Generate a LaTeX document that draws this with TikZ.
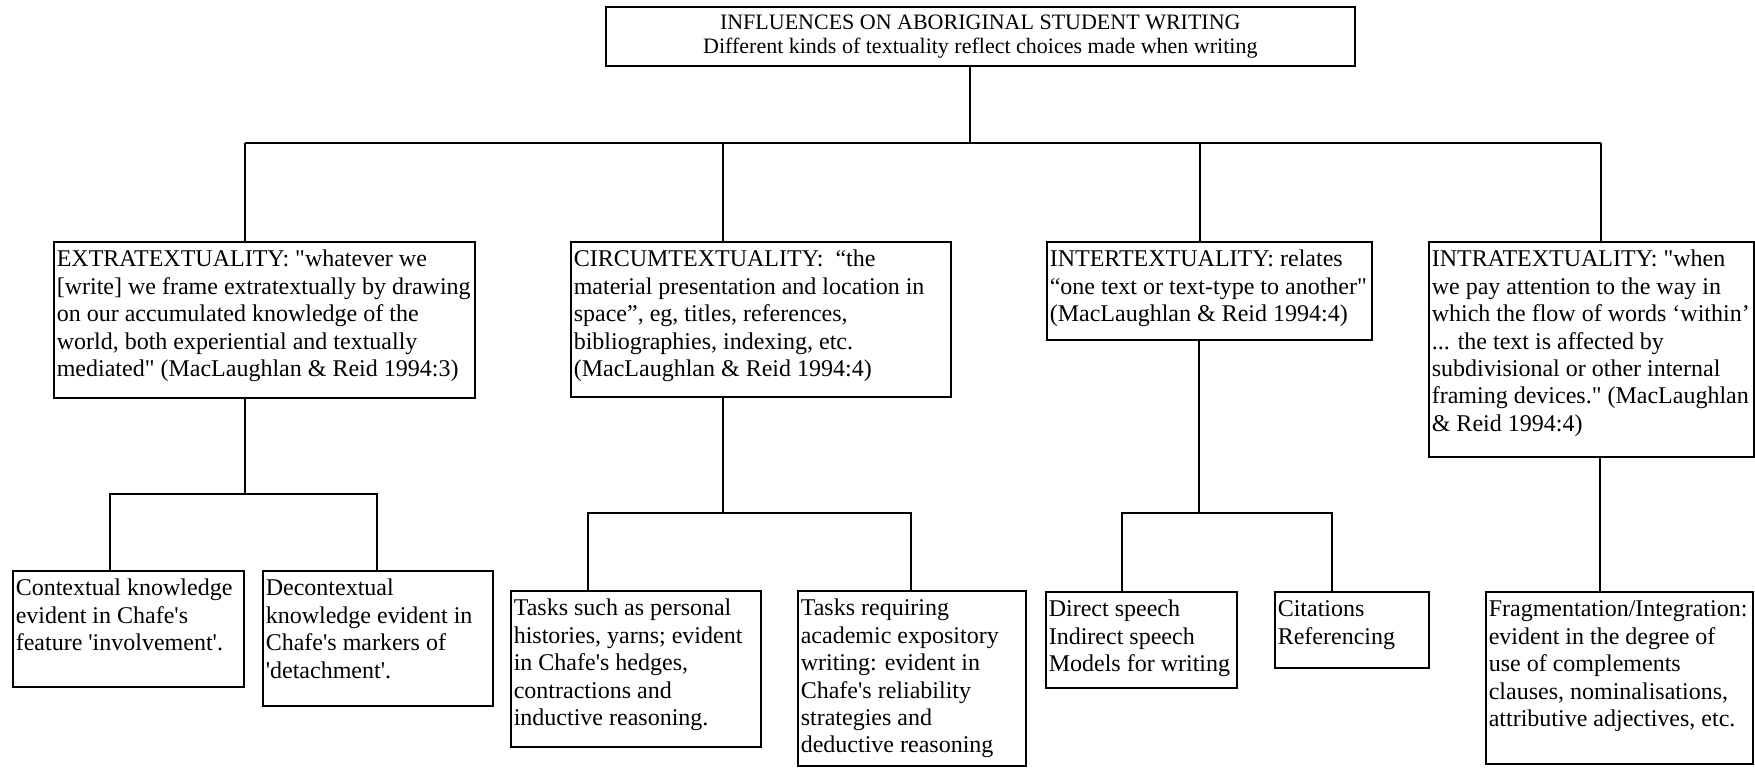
\documentclass[tikz,border=0pt]{standalone}
\usepackage{fontspec}
\setmainfont{Liberation Serif}
\newcommand\sq{\textquotesingle}
\newcommand\dq{\textquotedbl}
\newcommand\mkbox[6]{%
  \node[bx] (#1) at (#2,#3) {\begin{minipage}[t][\dimexpr #5pt/2-6pt\relax][t]{\dimexpr #4pt/2-3pt\relax}\raggedright\strut #6\end{minipage}};}
\tikzset{
  bx/.style={draw, line width=0.8pt, anchor=north west, inner xsep=1.5pt, inner ysep=3pt,
    font=\fontsize{12}{13.7}\selectfont},
  titlebox/.style={draw, line width=0.8pt, anchor=north west, inner sep=0pt, align=center,
    minimum width=374.5pt, minimum height=29.5pt, font=\fontsize{11}{12.2}\selectfont},
  conn/.style={line width=0.8pt}
}
\begin{document}
\begin{tikzpicture}[x=0.5pt,y=-0.5pt]
\useasboundingbox (0,0) rectangle (1755,767);
\node[titlebox] (title) at (605,6) {INFLUENCES ON ABORIGINAL STUDENT WRITING\\Different kinds of textuality reflect choices made when writing};

\mkbox{extra}{53}{241}{421}{156}{EXTRATEXTUALITY: \dq whatever we\\{[write]} we frame extratextually by drawing\\on our accumulated knowledge of the\\world, both experiential and textually\\mediated\dq\ (MacLaughlan \& Reid 1994:3)}
\mkbox{circum}{570}{241}{380}{155}{CIRCUMTEXTUALITY:\ \ “the\\material presentation and location in\\space”, eg, titles, references,\\bibliographies, indexing, etc.\\(MacLaughlan \& Reid 1994:4)}
\mkbox{inter}{1046}{241}{325}{98}{INTERTEXTUALITY: relates\\“one text or text-type to another\dq\\(MacLaughlan \& Reid 1994:4)}
\mkbox{intra}{1428}{241}{325}{215}{INTRATEXTUALITY: \dq when\\we pay attention to the way in\\which the flow of words ‘within’\\... the text is affected by\\subdivisional or other internal\\framing devices.\dq\ (MacLaughlan\\\& Reid 1994:4)}

\mkbox{ctx}{12}{570}{231}{116}{Contextual knowledge\\evident in Chafe\sq s\\feature \sq involvement\sq .}
\mkbox{dctx}{262}{570}{230}{135}{Decontextual\\knowledge evident in\\Chafe\sq s markers of\\\sq detachment\sq .}
\mkbox{tp}{510}{590}{250}{156}{Tasks such as personal\\histories, yarns; evident\\in Chafe\sq s hedges,\\contractions and\\inductive reasoning.}
\mkbox{tr}{797}{590}{228}{175}{Tasks requiring\\academic expository\\writing: evident in\\Chafe\sq s reliability\\strategies and\\deductive reasoning}
\mkbox{ds}{1045}{591}{191}{96}{Direct speech\\Indirect speech\\Models for writing}
\mkbox{cit}{1274}{591}{154}{76}{Citations\\Referencing}
\mkbox{frag}{1485}{591}{267}{172}{Fragmentation/Integration:\\evident in the degree of\\use of complements\\clauses, nominalisations,\\attributive adjectives, etc.}

% main bus
\coordinate (bt) at (970,143);
\coordinate (be) at (245,143);
\coordinate (bc) at (723,143);
\coordinate (bi) at (1200,143);
\coordinate (ba) at (1601,143);
\draw[conn] (title.south -| bt) -- (bt);
\draw[conn] (be) -- (ba);
\draw[conn] (be) -- (extra.north -| be);
\draw[conn] (bc) -- (circum.north -| bc);
\draw[conn] (bi) -- (inter.north -| bi);
\draw[conn] (ba) -- (intra.north -| ba);

% extratextuality children
\coordinate (e0) at (245,494);
\coordinate (e1) at (110,494);
\coordinate (e2) at (377,494);
\draw[conn] (extra.south -| e0) -- (e0);
\draw[conn] (ctx.north -| e1) -- (e1) -- (e2) -- (dctx.north -| e2);

% circumtextuality children
\coordinate (c0) at (723,513);
\coordinate (c1) at (588,513);
\coordinate (c2) at (911,513);
\draw[conn] (circum.south -| c0) -- (c0);
\draw[conn] (tp.north -| c1) -- (c1) -- (c2) -- (tr.north -| c2);

% intertextuality children
\coordinate (i0) at (1199,513);
\coordinate (i1) at (1122,513);
\coordinate (i2) at (1332,513);
\draw[conn] (inter.south -| i0) -- (i0);
\draw[conn] (ds.north -| i1) -- (i1) -- (i2) -- (cit.north -| i2);

% intratextuality child
\coordinate (a0) at (1600,0);
\draw[conn] (intra.south -| a0) -- (frag.north -| a0);
\end{tikzpicture}
\end{document}
